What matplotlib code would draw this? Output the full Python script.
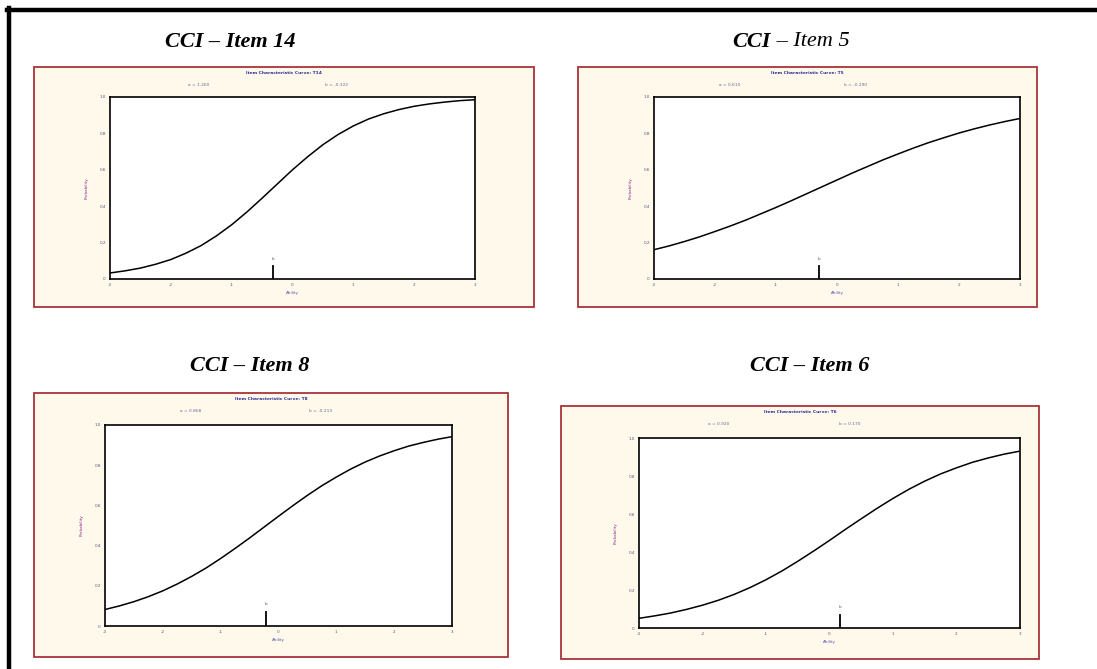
import numpy as np
import matplotlib
matplotlib.use("Agg")
import matplotlib.pyplot as plt
from matplotlib.patches import Rectangle
from matplotlib.lines import Line2D

plt.rcParams["axes.unicode_minus"] = False

W, H = 1097, 669

items = ["14", "5", "8", "6"]
a_vals = [1.260, 0.610, 0.868, 0.920]
b_vals = [-0.322, -0.290, -0.213, 0.170]

# ability points and probabilities
ability = [-3, -2.75, -2.5, -2.25, -2, -1.75, -1.5, -1.25, -1, -0.75, -0.5, -0.25,
           0, 0.25, 0.5, 0.75, 1, 1.25, 1.5, 1.75, 2, 2.25, 2.5, 2.75, 3]
prob_14 = [0.033, 0.045, 0.060, 0.081, 0.107, 0.142, 0.184, 0.237, 0.298, 0.368, 0.444, 0.522,
           0.600, 0.672, 0.738, 0.794, 0.841, 0.879, 0.908, 0.931, 0.949, 0.962, 0.972, 0.980, 0.985]
prob_5 = [0.161, 0.182, 0.206, 0.232, 0.261, 0.291, 0.323, 0.358, 0.393, 0.430, 0.468, 0.506,
          0.544, 0.582, 0.618, 0.654, 0.687, 0.719, 0.749, 0.776, 0.802, 0.825, 0.846, 0.865, 0.882]
prob_8 = [0.082, 0.100, 0.121, 0.146, 0.175, 0.209, 0.247, 0.289, 0.336, 0.386, 0.438, 0.492,
          0.546, 0.599, 0.650, 0.698, 0.741, 0.781, 0.816, 0.846, 0.872, 0.895, 0.913, 0.929, 0.942]
prob_6 = [0.051, 0.064, 0.079, 0.098, 0.120, 0.146, 0.177, 0.213, 0.254, 0.300, 0.351, 0.405,
          0.461, 0.519, 0.575, 0.630, 0.682, 0.730, 0.773, 0.811, 0.843, 0.872, 0.895, 0.915, 0.931]
probs = [prob_14, prob_5, prob_8, prob_6]

x_ticks = [-3, -2, -1, 0, 1, 2, 3]
y_ticks = [0, 0.2, 0.4, 0.6, 0.8, 1.0]
y_ticklabels = ["0", "0.2", "0.4", "0.6", "0.8", "1.0"]

# layout in pixels: panel box, axes box, title centre
panels = [(34, 67, 534, 307), (578, 67, 1037, 307), (34, 393, 508, 657), (561, 406, 1039, 659)]
axboxes = [(110, 97, 475, 279), (654, 97, 1020, 279), (105, 425, 452, 626), (639, 438, 1020, 628)]
titles_xy = [(230, 42), (797, 42), (250, 366), (810, 366)]

fig = plt.figure(figsize=(W / 100, H / 100), dpi=100)
fig.patch.set_facecolor("white")

# outer black frame (left and top only)
fig.add_artist(Line2D([8.5 / W, 8.5 / W], [0, 1 - 8 / H], color="black", lw=3.2, transform=fig.transFigure))
fig.add_artist(Line2D([7 / W, 1], [1 - 10 / H, 1 - 10 / H], color="black", lw=3.2, transform=fig.transFigure))

panel_face = "#FFF9EC"
panel_edge = "#A8343A"
blue = "#2B2B9A"

for i in range(4):
    x0, y0, x1, y1 = panels[i]
    fig.add_artist(Rectangle((x0 / W, 1 - y1 / H), (x1 - x0) / W, (y1 - y0) / H,
                             facecolor=panel_face, edgecolor=panel_edge, lw=1.3,
                             transform=fig.transFigure, zorder=0))
    pw = x1 - x0
    cx = x0 + pw / 2
    fig.text(cx / W, 1 - (y0 + 6) / H, "Item Characteristic Curve: T" + items[i],
             ha="center", va="center", fontsize=3.2, color=blue, fontweight="bold")
    yab = y0 + 18
    fig.text((x0 + 0.33 * pw) / W, 1 - yab / H, "a = %.3f" % a_vals[i],
             ha="center", va="center", fontsize=3.2, color="#6A6A9A")
    fig.text((x0 + 0.605 * pw) / W, 1 - yab / H, "b = %.3f" % b_vals[i],
             ha="center", va="center", fontsize=3.2, color="#6A6A9A")

    ax0, ay0, ax1, ay1 = axboxes[i]
    ax = fig.add_axes([ax0 / W, 1 - ay1 / H, (ax1 - ax0) / W, (ay1 - ay0) / H])
    ax.set_facecolor("white")
    ax.plot(ability, probs[i], color="black", lw=1.1)
    ax.plot([b_vals[i], b_vals[i]], [0, 0.07], color="black", lw=1.3)
    ax.text(b_vals[i], 0.1, "b", ha="center", va="bottom", fontsize=3, color="#555555")
    ax.set_xlim(-3, 3)
    ax.set_ylim(0, 1)
    ax.set_xticks(x_ticks)
    ax.set_yticks(y_ticks)
    ax.set_yticklabels(y_ticklabels)
    ax.tick_params(length=0, labelsize=3, colors="#555577", pad=3)
    for s in ax.spines.values():
        s.set_linewidth(1.2)
        s.set_color("black")
    ax.set_xlabel("Ability", fontsize=3, color="#5555AA", labelpad=3)
    ax.set_ylabel("Probability", fontsize=3, color="#8A2A8A", labelpad=8)

# panel headings
tfont = dict(family="Liberation Serif", style="italic", fontsize=16, color="black")
fig.text(titles_xy[0][0] / W, 1 - titles_xy[0][1] / H, "CCI \u2013 Item 14", ha="center", va="center",
         fontweight="bold", **tfont)
fig.text((titles_xy[1][0] - 26) / W, 1 - titles_xy[1][1] / H, "CCI", ha="right", va="center",
         fontweight="bold", **tfont)
fig.text((titles_xy[1][0] - 26) / W, 1 - titles_xy[1][1] / H, " \u2013 Item 5", ha="left", va="center",
         fontweight="normal", **tfont)
fig.text(titles_xy[2][0] / W, 1 - titles_xy[2][1] / H, "CCI \u2013 Item 8", ha="center", va="center",
         fontweight="bold", **tfont)
fig.text(titles_xy[3][0] / W, 1 - titles_xy[3][1] / H, "CCI \u2013 Item 6", ha="center", va="center",
         fontweight="bold", **tfont)

fig.savefig("out.png", dpi=100)
